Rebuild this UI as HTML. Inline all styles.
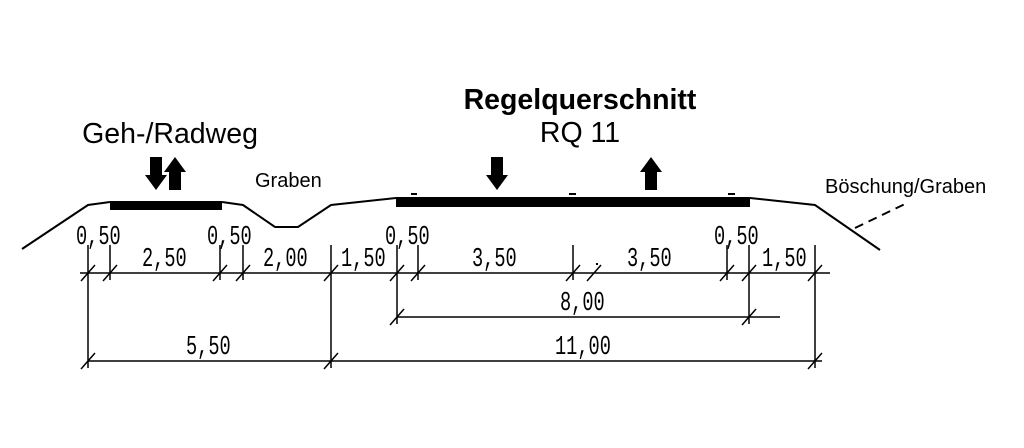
<!DOCTYPE html>
<html><head><meta charset="utf-8"><style>
html,body{margin:0;padding:0;background:#fff;}
svg{display:block}
.d{font-family:"Liberation Mono",monospace;font-size:27px;fill:#000}
</style></head><body>
<svg width="1024" height="448" viewBox="0 0 1024 448" xmlns="http://www.w3.org/2000/svg">
<g fill="none" stroke="#000" stroke-width="2">
<polyline points="22,249 88,205 110,202"/>
<polyline points="222,202 243,205 275,227 298,227 331,205 396,198"/>
<polyline points="750,198 815,205 880,250"/>
<line x1="855" y1="228" x2="905" y2="204" stroke-dasharray="9,6"/>
</g>
<rect x="110" y="201" width="112" height="9" fill="#000"/>
<rect x="396" y="197" width="354" height="10" fill="#000"/>
<rect x="411" y="193" width="6" height="2" fill="#000"/>
<rect x="569" y="193" width="7" height="2" fill="#000"/>
<rect x="728" y="193" width="7" height="2" fill="#000"/>
<g fill="#000">
<polygon points="150,157 162,157 162,175 167,175 156,190 145,175 150,175"/>
<polygon points="169,190 181,190 181,172 186,172 175,157 164,172 169,172"/>
<polygon points="491,157 503,157 503,175 508,175 497,190 486,175 491,175"/>
<polygon points="645,190 657,190 657,172 662,172 651,157 640,172 645,172"/>
</g>
<g stroke="#000" stroke-width="1.5" fill="none">
<line x1="80" y1="273" x2="830" y2="273"/>
<line x1="397" y1="317" x2="780" y2="317"/>
<line x1="88" y1="361" x2="822" y2="361"/>
<line x1="88" y1="245" x2="88" y2="368"/>
<line x1="110" y1="245" x2="110" y2="280"/>
<line x1="220" y1="245" x2="220" y2="280"/>
<line x1="243" y1="245" x2="243" y2="280"/>
<line x1="331" y1="245" x2="331" y2="368"/>
<line x1="397" y1="245" x2="397" y2="324"/>
<line x1="418" y1="245" x2="418" y2="280"/>
<line x1="573" y1="245" x2="573" y2="280"/>
<line x1="727" y1="245" x2="727" y2="280"/>
<line x1="749" y1="245" x2="749" y2="324"/>
<line x1="815" y1="245" x2="815" y2="368"/>
<line x1="81" y1="281" x2="95" y2="265"/>
<line x1="103" y1="281" x2="117" y2="265"/>
<line x1="213" y1="281" x2="227" y2="265"/>
<line x1="236" y1="281" x2="250" y2="265"/>
<line x1="324" y1="281" x2="338" y2="265"/>
<line x1="390" y1="281" x2="404" y2="265"/>
<line x1="411" y1="281" x2="425" y2="265"/>
<line x1="566" y1="281" x2="580" y2="265"/>
<line x1="587" y1="281" x2="601" y2="265"/>
<line x1="720" y1="281" x2="734" y2="265"/>
<line x1="742" y1="281" x2="756" y2="265"/>
<line x1="808" y1="281" x2="822" y2="265"/>
<line x1="390" y1="325" x2="404" y2="309"/>
<line x1="742" y1="325" x2="756" y2="309"/>
<line x1="81" y1="369" x2="95" y2="353"/>
<line x1="324" y1="369" x2="338" y2="353"/>
<line x1="808" y1="369" x2="822" y2="353"/>
</g>
<rect x="596" y="263" width="2" height="2" fill="#000"/>
<g class="d">
<text transform="translate(76,244) scale(0.69,1)">0,50</text>
<text transform="translate(142,266) scale(0.69,1)">2,50</text>
<text transform="translate(207,244) scale(0.69,1)">0,50</text>
<text transform="translate(263,266) scale(0.69,1)">2,00</text>
<text transform="translate(341,266) scale(0.69,1)">1,50</text>
<text transform="translate(385,244) scale(0.69,1)">0,50</text>
<text transform="translate(472,266) scale(0.69,1)">3,50</text>
<text transform="translate(627,266) scale(0.69,1)">3,50</text>
<text transform="translate(714,244) scale(0.69,1)">0,50</text>
<text transform="translate(762,266) scale(0.69,1)">1,50</text>
<text transform="translate(560,310) scale(0.69,1)">8,00</text>
<text transform="translate(186,354) scale(0.69,1)">5,50</text>
<text transform="translate(555,354) scale(0.69,1)">11,00</text>
</g>
<g font-family="Liberation Sans, sans-serif" fill="#000">
<text x="580" y="109" font-size="28.5" font-weight="bold" text-anchor="middle">Regelquerschnitt</text>
<text x="580" y="142" font-size="28.5" text-anchor="middle">RQ 11</text>
<text x="170" y="143" font-size="28.5" text-anchor="middle">Geh-/Radweg</text>
<text x="255" y="187" font-size="20">Graben</text>
<text x="825" y="193" font-size="20">Böschung/Graben</text>
</g>
</svg>
</body></html>
